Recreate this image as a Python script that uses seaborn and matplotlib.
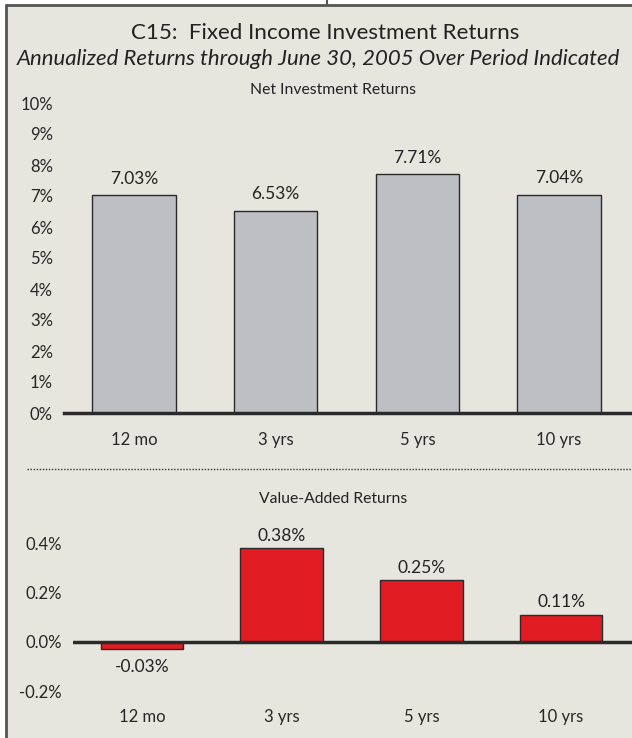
import matplotlib
matplotlib.use("Agg")
import matplotlib.pyplot as plt
import seaborn as sns
from matplotlib.lines import Line2D
from matplotlib.patches import Rectangle

# data
periods = ["12 mo", "3 yrs", "5 yrs", "10 yrs"]
net_returns = [7.03, 6.53, 7.71, 7.04]
value_added = [-0.03, 0.38, 0.25, 0.11]
net_ticks = [0, 1, 2, 3, 4, 5, 6, 7, 8, 9, 10]
va_ticks = [-0.2, 0.0, 0.2, 0.4]

title = "C15:  Fixed Income Investment Returns"
subtitle = "Annualized Returns through June 30, 2005 Over Period Indicated"

W, H = 632, 738
BG = "#e6e5de"
GREY = "#bebfc3"
RED = "#e11b22"
DARK = "#2a2a2a"

sns.set_theme(style="white")
plt.rcParams["font.family"] = ["Lato", "DejaVu Sans"]
plt.rcParams["text.color"] = "#222222"


def box(x0, y0, x1, y1):
    # pixel box measured from top-left -> figure fraction
    return [x0 / W, 1 - y1 / H, (x1 - x0) / W, (y1 - y0) / H]


def fy(y):
    return 1 - y / H


fig = plt.figure(figsize=(W / 100, H / 100), dpi=100, facecolor="white")

# panel background and frame
fig.add_artist(Rectangle((6 / W, 0), 1, fy(5), transform=fig.transFigure,
                         facecolor=BG, edgecolor="none", zorder=-5))
fig.add_artist(Line2D([6 / W, 6 / W], [0, fy(5)], color="#555555", lw=2))
fig.add_artist(Line2D([6 / W, 1], [fy(5), fy(5)], color="#555555", lw=2))
fig.add_artist(Line2D([327 / W, 327 / W], [fy(5), 1], color="#555555", lw=1.5))

fig.text(325 / W, fy(33), title, ha="center", va="center", fontsize=16.1)
fig.text(17 / W, fy(59), subtitle, ha="left", va="center", fontsize=15.9,
         style="italic")
fig.text(333 / W, fy(90), "Net Investment Returns", ha="center", va="center",
         fontsize=11.3)
fig.text(333 / W, fy(499), "Value-Added Returns", ha="center", va="center",
         fontsize=11.3)
fig.add_artist(Line2D([27 / W, 1], [fy(469), fy(469)], color="#333333",
                      lw=1, linestyle=(0, (1, 1.2))))

# top: net investment returns
ax1 = fig.add_axes(box(64, 103, 632, 413))
sns.barplot(x=periods, y=net_returns, color=GREY, saturation=1, width=0.59,
            edgecolor=DARK, linewidth=1, ax=ax1)
ax1.set_xlim(-0.494, 3.515)
ax1.set_ylim(0, 10)
ax1.set_yticks(net_ticks)
ax1.set_yticklabels([f"{t}%" for t in net_ticks])
ax1.bar_label(ax1.containers[0], labels=[f"{v:.2f}%" for v in net_returns],
              padding=6, fontsize=12.5)

# bottom: value-added returns
ax2 = fig.add_axes(box(73, 543, 632, 691))
sns.barplot(x=periods, y=value_added, color=RED, saturation=1, width=0.59,
            edgecolor=DARK, linewidth=1, ax=ax2)
ax2.set_xlim(-0.494, 3.508)
ax2.set_ylim(-0.2, 0.4)
ax2.set_yticks(va_ticks)
ax2.set_yticklabels([f"{t:.1f}%" for t in va_ticks])
ax2.axhline(0, color=DARK, lw=2.5, zorder=5)
ax2.bar_label(ax2.containers[0],
              labels=[f"{v:.2f}%" if v >= 0 else "" for v in value_added],
              padding=3, fontsize=12.5)
ax2.bar_label(ax2.containers[0],
              labels=[f"{v:.2f}%" if v < 0 else "" for v in value_added],
              padding=7, fontsize=12.5)

for ax in (ax1, ax2):
    ax.set_facecolor("none")
    ax.set_xlabel("")
    ax.set_ylabel("")
    for side in ("top", "right", "left"):
        ax.spines[side].set_visible(False)
    ax.tick_params(axis="both", length=0, labelsize=12)
    ax.tick_params(axis="y", pad=8)
    ax.grid(False)

ax1.spines["bottom"].set_color(DARK)
ax1.spines["bottom"].set_linewidth(2.5)
ax1.spines["bottom"].set_zorder(5)
ax1.tick_params(axis="x", pad=14)
ax2.spines["bottom"].set_visible(False)
ax2.tick_params(axis="x", pad=13)

fig.savefig("out.png", dpi=100, facecolor="white")
